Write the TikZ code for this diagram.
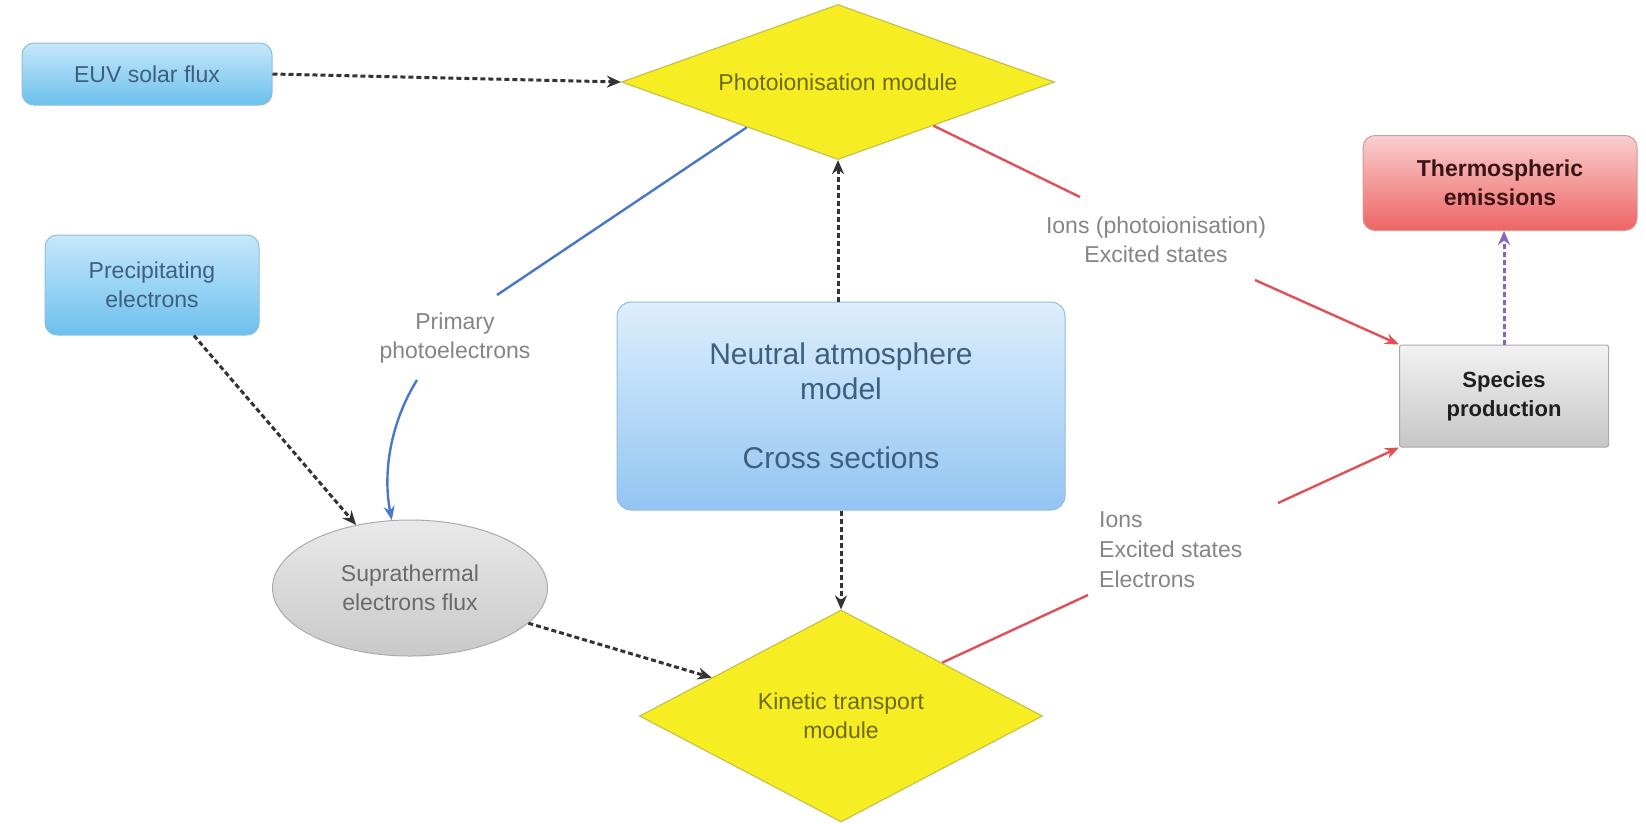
\documentclass[tikz,border=0pt]{standalone}
\usepackage{fontspec}
\setmainfont{Liberation Sans}
\usetikzlibrary{shapes.geometric,arrows.meta,calc}
\definecolor{bluetop}{HTML}{C6E8FA}
\definecolor{bluebot}{HTML}{6CC0EE}
\definecolor{blueline}{HTML}{8FBEDD}
\definecolor{bluetext}{HTML}{3E5F7E}
\definecolor{neutop}{HTML}{DDEEFC}
\definecolor{neubot}{HTML}{93C5F3}
\definecolor{yelfill}{HTML}{F6EE22}
\definecolor{yelline}{HTML}{C9C24A}
\definecolor{yeltext}{HTML}{6E6A12}
\definecolor{redtop}{HTML}{F9CFCF}
\definecolor{redbot}{HTML}{EE6464}
\definecolor{redline}{HTML}{D49A9A}
\definecolor{redtext}{HTML}{3B1414}
\definecolor{graytop}{HTML}{F2F2F2}
\definecolor{graybot}{HTML}{C6C6C6}
\definecolor{grayline}{HTML}{ABABAB}
\definecolor{graytext}{HTML}{6A6A6A}
\definecolor{labeltext}{HTML}{858585}
\definecolor{arrred}{HTML}{E0505A}
\definecolor{arrblue}{HTML}{4A78C8}
\definecolor{arrpurple}{HTML}{8A60C0}
\definecolor{dashcol}{HTML}{333333}
\tikzset{
  txt/.style={font=\fontsize{23}{29}\selectfont, align=center},
  bluebox/.style={txt, rectangle, rounded corners=12pt, draw=blueline, line width=1pt,
    top color=bluetop, bottom color=bluebot, text=bluetext, inner sep=0pt},
  neubox/.style={rectangle, rounded corners=14pt, draw=blueline, line width=1pt,
    top color=neutop, bottom color=neubot, text=bluetext, align=center, inner sep=0pt,
    font=\fontsize{30}{35}\selectfont},
  module/.style={txt, diamond, draw=yelline, line width=1.2pt, fill=yelfill, text=yeltext, inner sep=0pt},
  redbox/.style={rectangle, rounded corners=12pt, draw=redline, line width=1pt,
    top color=redtop, bottom color=redbot, text=redtext, align=center, inner sep=0pt,
    font=\fontsize{23}{29}\selectfont\bfseries},
  graybox/.style={rectangle, rounded corners=2pt, draw=grayline, line width=1pt,
    top color=graytop, bottom color=graybot, text=black!88, align=center, inner sep=0pt,
    font=\fontsize{22}{29}\selectfont\bfseries},
  grayell/.style={txt, ellipse, draw=grayline, line width=1pt,
    top color=graytop!80!graybot, bottom color=graybot!95!white, text=graytext, inner sep=0pt},
  lab/.style={txt, text=labeltext, inner sep=0pt},
  flow/.style={dashcol, line width=3pt, dash pattern=on 5pt off 3pt,
    -{Stealth[length=14pt,width=12pt]}},
  redarrow/.style={arrred, line width=2.4pt},
  bluearrow/.style={arrblue, line width=2.4pt},
  tip/.style={-{Stealth[length=14pt,width=11pt]}}
}
\begin{document}
\begin{tikzpicture}[x=1pt,y=-1pt]
\useasboundingbox[fill=white] (0,0) rectangle (1646,823);

% nodes
\node[bluebox, minimum width=250pt, minimum height=62pt] (euv) at (147,74) {EUV solar flux};
\node[bluebox, minimum width=214pt, minimum height=100pt] (precip) at (152,285) {Precipitating\\electrons};
\node[module, aspect=2.8, minimum width=433pt, minimum height=155pt] (photo) at (838,82) {Photoionisation module};
\node[neubox, minimum width=448pt, minimum height=208pt] (neutral) at (841,406) {Neutral atmosphere\\model\\[34pt]Cross sections};
\node[grayell, minimum width=275pt, minimum height=136pt] (supra) at (410,588) {Suprathermal\\electrons flux};
\node[module, aspect=1.9, minimum width=403pt, minimum height=212pt] (kin) at (841,716) {Kinetic transport\\module};
\node[redbox, minimum width=274pt, minimum height=95pt] (thermo) at (1500,183) {Thermospheric\\emissions};
\node[graybox, minimum width=209pt, minimum height=102pt] (species) at (1504,396) {Species\\production};

% labels
\node[lab] (primlab) at (455,338) {Primary\\photoelectrons};
\node[lab] (ionslab) at (1156,240) {Ions (photoionisation)\\Excited states};
\node[lab, align=left, anchor=west, font=\fontsize{23}{30}\selectfont] (kinlab) at (1099,550) {Ions\\Excited states\\Electrons};

% label gap coordinates
\coordinate (p1end) at (497,295);
\coordinate (p2start) at (417,380);
\coordinate (r1end) at (1080,197);
\coordinate (r2start) at (1255,280);
\coordinate (r3end) at (1088,595);
\coordinate (r4start) at (1278,503);

% dashed flows
\draw[flow] (euv.east) -- (photo.west);
\draw[flow] (photo.south |- neutral.north) -- (photo.south);
\draw[flow] (neutral.south) -- (kin.north);
\draw[flow] ($(precip.south)!0.39!(precip.south east)$) -- (supra);
\draw[flow] (supra) -- ($(kin.west)!0.36!(kin.north)$);
\draw[flow, arrpurple] (species.north) -- (species.north |- thermo.south);

% blue primary photoelectrons
\draw[bluearrow] ($(photo.south)!0.42!(photo.west)$) -- (p1end);
\draw[bluearrow, tip] (p2start) .. controls (392,420) and (382,470) .. (supra.105);

% red flows
\draw[redarrow] ($(photo.south)!0.44!(photo.east)$) -- (r1end);
\draw[redarrow, tip] (r2start) -- (species.north west);
\draw[redarrow] ($(kin.north)!0.5!(kin.east)$) -- (r3end);
\draw[redarrow, tip] (r4start) -- (species.south west);
\end{tikzpicture}
\end{document}
